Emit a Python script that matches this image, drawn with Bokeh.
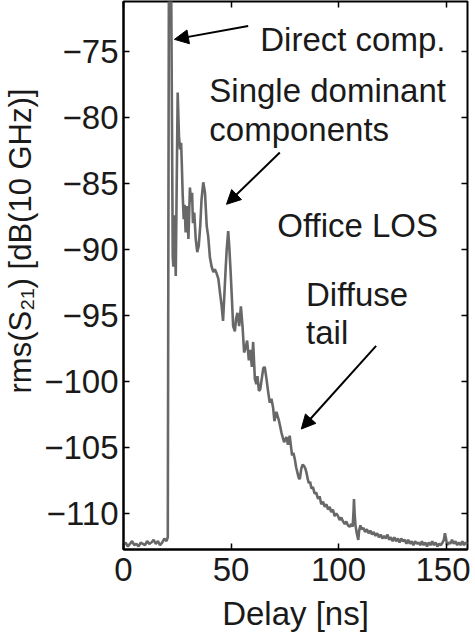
from bokeh.plotting import figure
from bokeh.models import Range1d, LinearAxis, Arrow, NormalHead, FixedTicker, ColumnDataSource, Label
from bokeh.embed import file_html
from bokeh.resources import INLINE

# ---------------- data ----------------
delay_ns = [0, 1, 2, 3, 4, 5, 6, 7, 8, 9, 10, 11, 12, 13, 14, 15, 16, 17, 18, 19, 20, 20.6,
            21.1, 21.6, 22.2, 22.9, 23.2, 23.7, 24.3, 25.2, 25.8, 26.3, 26.8, 27.1, 27.5, 28.0,
            28.4, 28.9, 29.5, 30.2, 30.9, 31.4, 31.9, 32.3, 32.9, 33.6, 34.3, 35.0, 35.7, 36.3,
            37.1, 37.9, 38.7, 39.4, 40.2, 41.0, 41.8, 42.5, 43.3, 44.1, 44.9, 45.6, 46.3, 46.9,
            47.5, 48.0, 48.7, 49.2, 49.8, 50.3, 51.0, 51.8, 52.4, 53.0, 53.8, 54.6, 55.4, 56.1,
            56.9, 57.5, 58.3, 59.0, 59.7, 60.3, 61.1, 61.8, 62.3, 63.0, 63.6, 64.2, 65.0, 65.7,
            66.5, 67.3, 68.0, 68.8, 69.6, 70.2, 71.1, 72.2, 73.0, 73.5, 74.7, 75.8, 76.5, 77.3,
            78.4, 79.0, 79.7, 80.3, 80.9, 81.5, 82.0, 82.7, 83.3, 84.0, 84.6, 85.1, 85.7, 86.2,
            86.8, 87.4, 88.1, 88.9, 89.6, 90.5, 91.2, 92.0, 92.8, 93.6, 94.4, 95.1, 95.9, 96.6,
            97.4, 98.2, 99.0, 99.8, 100.5, 101.3, 102.1, 102.9, 103.6, 104.4, 105.2, 106.0, 106.6,
            107.0, 107.2, 107.5, 107.9, 108.5, 109.2, 109.6, 110.2, 110.8, 111.6, 112.4, 113.2,
            114.0, 114.8, 115.6, 116.4, 117.2, 118.0, 118.8, 119.6, 120.4, 121.2, 122.0, 122.8,
            123.6, 124.4, 125.2, 126.0, 126.8, 127.6, 128.4, 129.2, 130.0, 130.8, 131.6, 132.4,
            133.2, 134.0, 134.8, 135.6, 136.4, 137.2, 138.0, 138.8, 139.6, 140.4, 141.2, 142.0,
            142.8, 143.6, 144.4, 145.2, 146.0, 146.8, 147.6, 148.4, 149.0, 149.5, 150.0, 150.5,
            151.2, 152.0, 152.8, 153.6, 154.4, 155.2, 156.0, 156.8, 157.6, 158.4, 159.2, 160.0]
rms_s21_db = [-112.4, -112.2, -112.5, -112.3, -112.1, -112.4, -112.3, -112.5, -112.2, -112.3,
              -112.4, -112.1, -112.3, -112.2, -112.0, -112.3, -112.1, -112.4, -112.2, -111.9,
              -112.1, -111.8,
              -70.5, -70.5, -70.5, -90.5, -91.3, -87.4, -92.0, -78.1, -81.4, -82.4, -81.9, -83.4,
              -85.7, -87.7, -86.6, -88.7, -86.7, -89.2, -85.3, -86.4, -85.7, -88.0, -87.2, -89.2,
              -90.2, -89.7, -88.2, -86.2, -84.9, -85.7, -88.2, -89.0, -90.6, -91.3, -91.7, -91.5,
              -91.8, -92.2, -93.3, -94.2, -95.4, -93.5, -91.5, -90.0, -88.6, -89.8, -91.6, -93.3,
              -95.8, -96.2, -95.2, -94.8, -95.8, -94.3, -95.9, -97.8, -97.4, -96.9, -98.4, -97.6,
              -98.9, -97.0, -99.8, -100.2, -99.6, -100.7, -100.6, -99.9, -99.0, -98.9, -99.8,
              -100.8, -101.6, -101.3, -102.0, -103.0, -102.3, -102.9, -103.5, -103.9, -104.6,
              -104.2, -104.8, -104.1, -105.6, -105.4, -105.9, -106.5, -106.9, -107.3, -107.4,
              -106.6, -106.3, -106.4, -106.6, -106.9, -107.4, -107.7, -107.6, -108.1, -108.0,
              -108.5, -108.4, -108.9, -108.7, -109.3, -109.1, -109.5, -109.3, -109.7, -109.5,
              -109.9, -109.7, -110.2, -110.0, -110.2, -110.5, -110.3, -110.6, -110.8, -110.6,
              -110.9, -111.0, -110.8, -111.0, -109.8, -108.9, -110.0, -110.9, -111.5, -112.0,
              -111.3, -110.9, -111.2, -111.1, -111.4, -111.2, -111.5, -111.3, -111.6, -111.4,
              -111.7, -111.5, -111.8, -111.6, -111.9, -111.7, -111.9, -111.6, -112.0, -111.8,
              -112.1, -111.8, -112.1, -111.9, -112.2, -111.9, -112.1, -112.0, -112.3, -112.0,
              -112.3, -112.1, -112.4, -112.1, -112.3, -112.2, -112.4, -112.1, -112.4, -112.2,
              -112.5, -112.2, -112.4, -112.1, -112.4, -112.2, -112.5, -112.3, -112.4, -112.2,
              -112.0, -111.5, -111.9, -112.4, -112.2, -112.3, -112.0, -112.3, -112.1, -112.4,
              -112.2, -112.4, -112.1, -112.4, -112.2, -112.3]

x_ticks = [0, 50, 100, 150]
y_ticks = [-110, -105, -100, -95, -90, -85, -80, -75]
y_tick_labels = ["\u2212110", "\u2212105", "\u2212100", "\u221295", "\u221290", "\u221285", "\u221280", "\u221275"]

x_title = "Delay [ns]"
y_title = "rms(S\u2082\u2081) [dB(10 GHz)]"

annot_texts = ["Direct comp.", "Single dominant", "components", "Office LOS", "Diffuse", "tail"]
annot_x = [63.6, 39.9, 39.9, 71.5, 84.9, 84.9]
annot_y = [-74.1, -77.95, -80.9, -88.2, -93.4, -96.3]

arrow_x0 = [58.0, 72.7, 117.5]
arrow_y0 = [-73.05, -82.65, -97.3]
arrow_x1 = [23.7, 47.9, 82.7]
arrow_y1 = [-74.07, -86.57, -103.6]

# ---------------- figure ----------------
FONT = "Liberation Sans"
TICK_FS = "33px"
TEXT_FS = "33px"
TXT_COLOR = "#1a1a1a"

p = figure(frame_width=344, frame_height=548, output_backend="svg", toolbar_location=None,
           x_range=Range1d(0, 160), y_range=Range1d(-112.73, -71.2),
           min_border_left=118, min_border_right=3, min_border_top=1, min_border_bottom=10)
p.background_fill_color = "white"
p.border_fill_color = "white"
p.grid.visible = False
p.outline_line_color = "black"
p.outline_line_width = 2

src = ColumnDataSource(dict(x=delay_ns, y=rms_s21_db))
p.line("x", "y", source=src, line_color="#686868", line_width=2.6)

def style_axis(ax, labels=True):
    ax.axis_line_color = "black"
    ax.axis_line_width = 2
    ax.major_tick_in = 6
    ax.major_tick_out = 0
    ax.major_tick_line_width = 1.5
    ax.major_tick_line_color = "black"
    ax.minor_tick_line_color = None
    ax.major_label_text_font = FONT
    if labels:
        ax.major_label_text_font_size = TICK_FS
        ax.major_label_text_color = TXT_COLOR
    else:
        ax.major_label_text_font_size = "1px"
        ax.major_label_text_color = None
        ax.major_label_standoff = 0

xa = p.xaxis[0]
xa.ticker = FixedTicker(ticks=x_ticks)
style_axis(xa)
xa.major_label_standoff = 8
xa.axis_label = x_title
xa.axis_label_text_font = FONT
xa.axis_label_text_font_size = TEXT_FS
xa.axis_label_text_font_style = "normal"
xa.axis_label_text_color = TXT_COLOR
xa.axis_label_standoff = 11

ya = p.yaxis[0]
ya.ticker = FixedTicker(ticks=y_ticks)
ya.major_label_overrides = {t: l for t, l in zip(y_ticks, y_tick_labels)}
style_axis(ya)
ya.major_label_standoff = 5
# leading no-break spaces lift the visible title above the frame centre, as in the reference
ya.axis_label = "\u00a0" * 8 + y_title
ya.axis_label_text_font = FONT
ya.axis_label_text_font_size = "31px"
ya.axis_label_text_font_style = "normal"
ya.axis_label_text_color = TXT_COLOR
ya.axis_label_standoff = 3

top = LinearAxis(ticker=FixedTicker(ticks=x_ticks))
style_axis(top, labels=False)
top.axis_line_color = None
p.add_layout(top, "above")

right = LinearAxis(ticker=FixedTicker(ticks=y_ticks))
style_axis(right, labels=False)
right.axis_line_color = None
p.add_layout(right, "right")

for t, x, y in zip(annot_texts, annot_x, annot_y):
    p.add_layout(Label(x=x, y=y, text=t, text_font=FONT, text_font_size=TEXT_FS,
                       text_color=TXT_COLOR, text_baseline="alphabetic", text_align="left"))

for xs, ys, xe, ye in zip(arrow_x0, arrow_y0, arrow_x1, arrow_y1):
    p.add_layout(Arrow(end=NormalHead(size=14, fill_color="black", line_color="black"),
                       x_start=xs, y_start=ys, x_end=xe, y_end=ye,
                       line_color="black", line_width=2))

open("out.html", "w").write(file_html(p, INLINE))
